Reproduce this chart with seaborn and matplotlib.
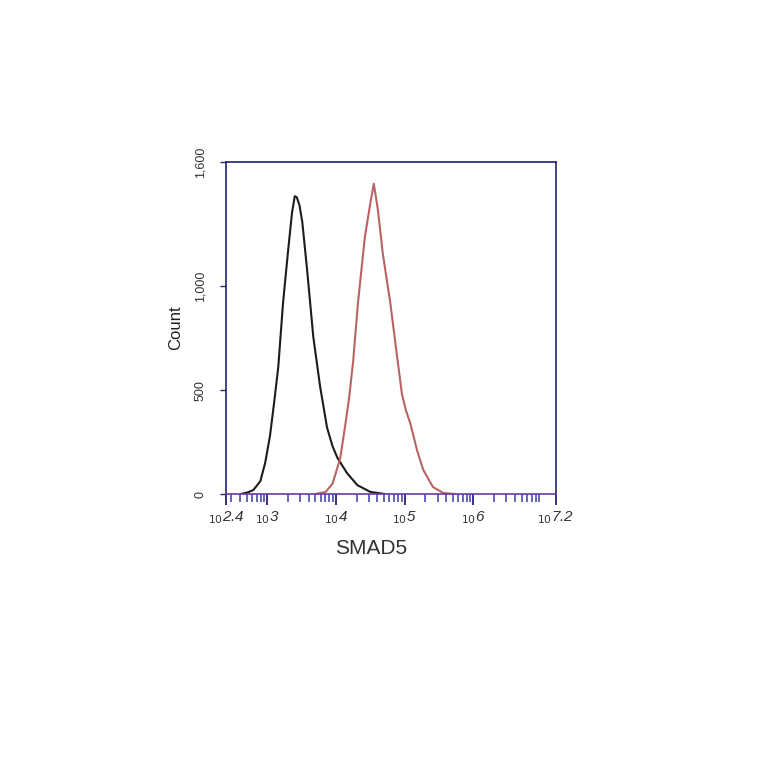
import numpy as np
import pandas as pd
import matplotlib
matplotlib.use("Agg")
import matplotlib.pyplot as plt
from matplotlib.ticker import FixedLocator, NullFormatter
import seaborn as sns

# log10 fluorescence positions and counts
control_log = [2.62, 2.72, 2.80, 2.90, 2.97, 3.04, 3.10, 3.16, 3.23, 3.30, 3.36, 3.40, 3.43, 3.47, 3.51, 3.58, 3.67, 3.77, 3.87, 3.95, 4.02, 4.16, 4.31, 4.50, 4.71]
control_cnt = [0, 8, 20, 62, 150, 280, 440, 610, 921, 1161, 1354, 1435, 1430, 1390, 1310, 1080, 757, 516, 320, 230, 175, 101, 43, 10, 0]
smad5_log = [3.70, 3.85, 3.95, 4.06, 4.13, 4.19, 4.25, 4.32, 4.42, 4.50, 4.55, 4.61, 4.68, 4.79, 4.89, 4.96, 5.02, 5.08, 5.18, 5.27, 5.41, 5.56, 5.73]
smad5_cnt = [0, 10, 50, 170, 320, 460, 640, 921, 1238, 1402, 1495, 1369, 1161, 921, 660, 480, 400, 342, 210, 116, 34, 5, 0]

x_ticks_exp = [2.4, 3, 4, 5, 6, 7.2]
x_tick_text = ["2.4", "3", "4", "5", "6", "7.2"]
y_ticks = [0, 500, 1000, 1600]
y_tick_text = ["0", "500", "1,000", "1,600"]

df = pd.concat([
    pd.DataFrame({"x": np.power(10.0, control_log), "count": control_cnt, "series": "control"}),
    pd.DataFrame({"x": np.power(10.0, smad5_log), "count": smad5_cnt, "series": "SMAD5"}),
])

sns.set_style("white")
plt.rcParams["font.family"] = ["Liberation Sans", "DejaVu Sans"]

fig = plt.figure(figsize=(7.64, 7.64), dpi=100)
ax = fig.add_axes([0.2958, 0.3534, 0.4319, 0.4346])

sns.lineplot(data=df, x="x", y="count", hue="series",
             palette={"control": "#1c1c1c", "SMAD5": "#b86464"},
             linewidth=1.5, legend=False, ax=ax, sort=False, estimator=None)

ax.set_xscale("log")
ax.set_xlim(10 ** 2.4, 10 ** 7.2)
ax.set_ylim(0, 1600)

navy = "#23236e"
for s in ax.spines.values():
    s.set_color(navy)
    s.set_linewidth(1.2)
ax.spines["bottom"].set_color("#6a3aa0")

major = [10 ** e for e in x_ticks_exp]
ax.xaxis.set_major_locator(FixedLocator(major))
ax.set_xticklabels([r"$_{10}$" + t for t in x_tick_text], fontsize=11, style="italic", color="#333333")
minor = [m * 10 ** d for d in range(2, 8) for m in range(2, 10)
         if 10 ** 2.4 <= m * 10 ** d <= 10 ** 7.2]
ax.xaxis.set_minor_locator(FixedLocator(minor))
ax.xaxis.set_minor_formatter(NullFormatter())
ax.tick_params(axis="x", which="major", direction="out", length=8, width=1.3, color=navy, pad=3, bottom=True)
ax.tick_params(axis="x", which="minor", direction="out", length=6, width=1.1, color="#3a3aa8", bottom=True)

ax.set_yticks(y_ticks)
ax.set_yticklabels(y_tick_text, rotation=90, va="center", fontsize=9, color="#333333")
ax.tick_params(axis="y", which="major", direction="out", length=4, width=1.0, color=navy, pad=10, left=True)

ax.set_xlabel("SMAD5", fontsize=15, color="#333333")
ax.xaxis.set_label_coords(0.44, -0.135)
ax.set_ylabel("Count", fontsize=12, color="#222222", labelpad=8)

fig.savefig("out.png", dpi=100, facecolor="white")
